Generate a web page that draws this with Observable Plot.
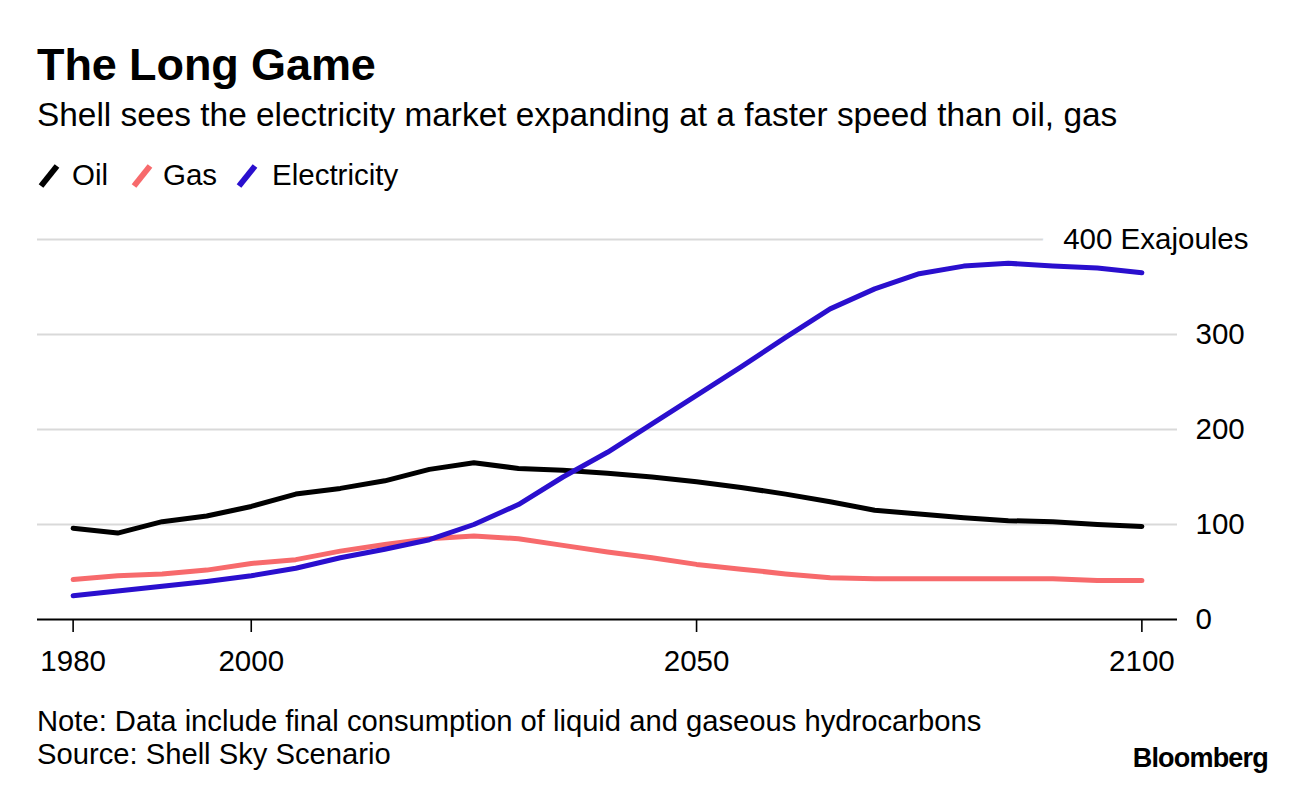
<!DOCTYPE html>
<html>
<head>
<meta charset="utf-8">
<script src="https://cdn.jsdelivr.net/npm/d3@7"></script>
<script src="https://cdn.jsdelivr.net/npm/@observablehq/plot@0.6"></script>
<style>
  html, body { margin: 0; padding: 0; background: #fff; }
  body { width: 1296px; height: 788px; position: relative; overflow: hidden;
         font-family: "Liberation Sans", Arial, sans-serif; color: #000; }
  .t { position: absolute; line-height: 1; white-space: nowrap; }
  #title { left: 37px; top: 42px; font-size: 45px; font-weight: bold; letter-spacing: -0.1px; }
  #subtitle { left: 37px; top: 98px; font-size: 33.4px; }
  #legend { position: absolute; left: 0; top: 0; width: 1296px; height: 200px; }
  .lg { position: absolute; top: 160px; font-size: 29.5px; line-height: 1; }
  .sw { position: absolute; top: 163px; }
  #chart { position: absolute; left: 0; top: 200px; }
  #note { left: 37px; top: 707px; font-size: 29.2px; }
  #source { left: 37px; top: 740px; font-size: 29.2px; }
  #brand { right: 28px; top: 745px; font-size: 27px; font-weight: bold; letter-spacing: -0.8px; }
</style>
</head>
<body>
<div id="title" class="t">The Long Game</div>
<div id="subtitle" class="t">Shell sees the electricity market expanding at a faster speed than oil, gas</div>
<div id="legend"></div>
<div id="chart"></div>
<div id="note" class="t">Note: Data include final consumption of liquid and gaseous hydrocarbons</div>
<div id="source" class="t">Source: Shell Sky Scenario</div>
<div id="brand" class="t">Bloomberg</div>
<script>
// ---- Data (Exajoules) ----
const years = [1980, 1985, 1990, 1995, 2000, 2005, 2010, 2015, 2020, 2025, 2030, 2035, 2040,
               2045, 2050, 2055, 2060, 2065, 2070, 2075, 2080, 2085, 2090, 2095, 2100];
const oil  = [96, 91, 103, 109, 119, 132, 138, 146, 158, 165, 159, 157, 154,
              150, 145, 139, 132, 124, 115, 111, 107, 104, 103, 100, 98];
const gas  = [42, 46, 48, 52, 59, 63, 72, 79, 85, 88, 85, 78, 71,
              65, 58, 53, 48, 44, 43, 43, 43, 43, 43, 41, 41];
const electricity = [25, 30, 35, 40, 46, 54, 65, 74, 84, 100, 121, 150, 176,
                     206, 236, 266, 297, 327, 348, 364, 372, 375, 372, 370, 365];
const seriesNames = ["Oil", "Gas", "Electricity"];
const seriesColors = ["#000000", "#f76a6c", "#2a0fce"];
const xTicks = [1980, 2000, 2050, 2100];
const yTicks = [0, 100, 200, 300];
const gridValues = [100, 200, 300, 400];
const unitLabel = "Exajoules";

// ---- Build table ----
const seriesValues = [oil, gas, electricity];
const data = [];
seriesNames.forEach((name, i) => {
  years.forEach((yr, j) => data.push({series: name, year: yr, value: seriesValues[i][j]}));
});

// ---- Legend ----
const legend = document.getElementById("legend");
const swatchX = [38, 131, 236];
const labelX = [72, 163, 272];
seriesNames.forEach((name, i) => {
  const ns = "http://www.w3.org/2000/svg";
  const s = document.createElementNS(ns, "svg");
  s.setAttribute("width", 24); s.setAttribute("height", 26);
  s.setAttribute("class", "sw");
  s.style.left = swatchX[i] + "px";
  const l = document.createElementNS(ns, "line");
  l.setAttribute("x1", 3); l.setAttribute("y1", 23);
  l.setAttribute("x2", 19); l.setAttribute("y2", 3);
  l.setAttribute("stroke", seriesColors[i]);
  l.setAttribute("stroke-width", 6);
  s.appendChild(l);
  legend.appendChild(s);
  const t = document.createElement("div");
  t.className = "lg"; t.style.left = labelX[i] + "px";
  t.textContent = name;
  legend.appendChild(t);
});

// ---- Chart ----
const chart = Plot.plot({
  width: 1296,
  height: 490,
  marginLeft: 37,
  marginRight: 119,
  marginTop: 39,
  marginBottom: 71,
  style: {fontFamily: "'Liberation Sans', Arial, sans-serif", background: "white", color: "#000"},
  x: {domain: [1976, 2104]},
  y: {domain: [0, 400]},
  color: {domain: seriesNames, range: seriesColors},
  marks: [
    Plot.ruleY(gridValues, {stroke: "#d9d9d9", strokeWidth: 2.2}),
    Plot.text([400], {
      y: d => d, frameAnchor: "right", dx: 71, textAnchor: "end",
      text: d => `${d} ${unitLabel}`, fontSize: 29.5, fill: "#000",
      stroke: "white", strokeWidth: 42, paintOrder: "stroke"
    }),
    Plot.axisY(yTicks, {anchor: "right", tickSize: 0, tickPadding: 18, fontSize: 29.5,
                        textAnchor: "start", label: null}),
    Plot.axisX(xTicks, {anchor: "bottom", tickSize: 13, tickPadding: 18, fontSize: 29.5,
                        strokeWidth: 1.6, tickFormat: d => String(d), label: null}),
    Plot.ruleY([0], {stroke: "#000", strokeWidth: 2.2}),
    Plot.line(data, {x: "year", y: "value", z: "series", stroke: "series",
                     strokeWidth: 5, strokeLinejoin: "round", strokeLinecap: "round"})
  ]
});
document.getElementById("chart").appendChild(chart);
</script>
</body>
</html>
